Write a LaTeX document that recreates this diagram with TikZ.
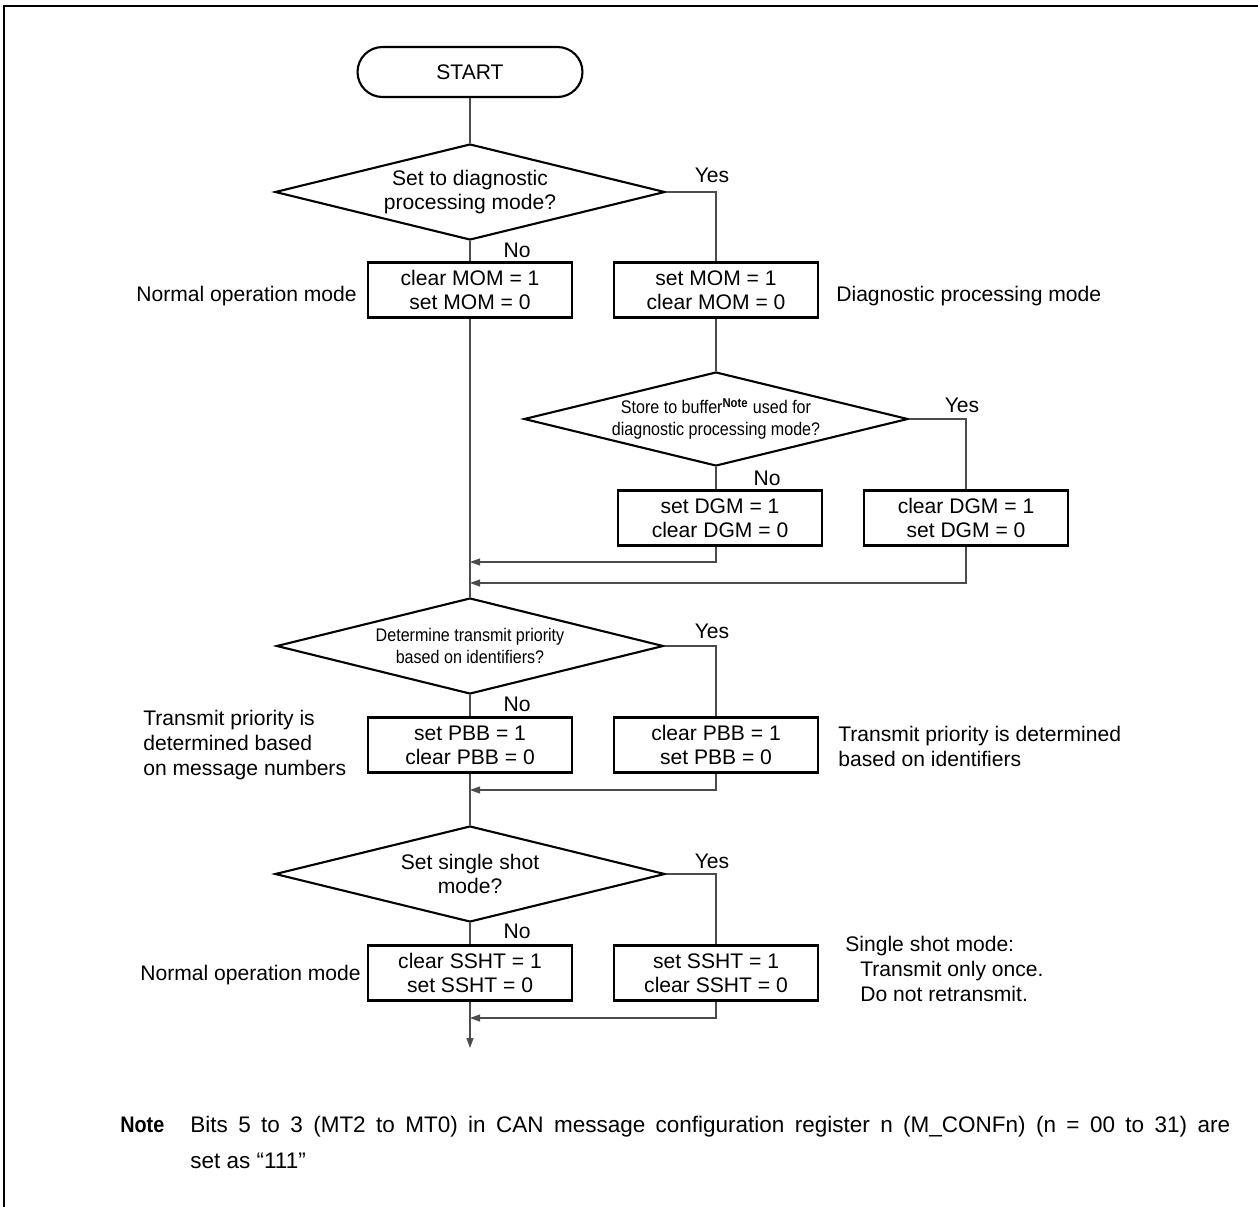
\documentclass[tikz,border=0pt]{standalone}
\usepackage{fontspec}
\setmainfont{Liberation Sans}
\newfontfamily\narrowfont[FakeStretch=0.88]{Liberation Sans}
\usetikzlibrary{arrows.meta,shapes.geometric}

\begin{document}
\begin{tikzpicture}[
  x=0.02cm, y=-0.02cm,
  font=\fontsize{12}{13.7}\selectfont,
  terminal/.style={draw, line width=1.2pt, rounded corners=0.5cm, minimum width=4.5cm, minimum height=1cm},
  decision/.style={draw, diamond, aspect=4, line width=1.2pt, align=center, inner sep=0pt, minimum width=7.8cm, minimum height=1.92cm},
  setbox/.style={draw, line width=1.2pt, align=center, minimum width=4.08cm, minimum height=1.1cm},
  tag/.style={inner sep=1pt},
  side/.style={align=left, inner sep=0pt},
  small/.style={font=\narrowfont\fontsize{10.4}{12.5}\selectfont},
  flow/.style={draw=black!70, line width=0.6pt},
  arrow/.style={flow, -{Triangle[length=2mm,width=1.4mm]}}
]
\useasboundingbox (0,0) rectangle (1258,1207);
\draw[line width=1.6pt] (4,1207) -- (4,6) -- (1258,6);

% start and mode selection
\node[terminal] (start) at (470,72) {START};
\node[decision] (dmode) at (470,192) {Set to diagnostic\\processing mode?};
\node[setbox] (mnorm) at (470,290) {clear MOM = 1\\set MOM = 0};
\node[setbox] (mdiag) at (716,290) {set MOM = 1\\clear MOM = 0};
\node[side, anchor=east] (lnorm) at (357,296) {Normal operation mode};
\node[side, anchor=west] (ldiag) at (836,296) {Diagnostic processing mode};
\node[tag] (ymode) at (712,175) {Yes};
\node[tag] (nmode) at (517,250) {No};

% diagnostic buffer
\node[decision, small, minimum width=7.68cm, minimum height=1.88cm] (dbuf) at (716,419)
  {Store to buffer\textsuperscript{\bfseries Note} used for\\diagnostic processing mode?};
\node[setbox] (gset) at (720,518) {set DGM = 1\\clear DGM = 0};
\node[setbox] (gclr) at (966,518) {clear DGM = 1\\set DGM = 0};
\node[tag] (ybuf) at (962,405) {Yes};
\node[tag] (nbuf) at (767,478) {No};
\coordinate (j1) at (470,562);
\coordinate (j2) at (470,583);

% transmit priority
\node[decision, small, minimum width=7.74cm] (dprio) at (470,646)
  {Determine transmit priority\\based on identifiers?};
\node[setbox] (pset) at (470,745) {set PBB = 1\\clear PBB = 0};
\node[setbox] (pclr) at (716,745) {clear PBB = 1\\set PBB = 0};
\node[side, anchor=west, font=\fontsize{12}{14.2}\selectfont] (lnum) at (143,745)
  {Transmit priority is\\determined based\\on message numbers};
\node[side, anchor=west, font=\fontsize{12}{14.2}\selectfont] (lid) at (838,746)
  {Transmit priority is determined\\based on identifiers};
\node[tag] (yprio) at (712,631) {Yes};
\node[tag] (nprio) at (517,704) {No};
\coordinate (j3) at (470,790);

% single shot
\node[decision] (dshot) at (470,874) {Set single shot\\mode?};
\node[setbox] (snorm) at (470,973) {clear SSHT = 1\\set SSHT = 0};
\node[setbox] (sone) at (716,973) {set SSHT = 1\\clear SSHT = 0};
\node[side, anchor=east] (lsnorm) at (361,975) {Normal operation mode};
\node[side, anchor=west, font=\fontsize{12}{14.2}\selectfont] (lshot) at (845,969)
  {Single shot mode:\\\hspace{0.3cm}Transmit only once.\\\hspace{0.3cm}Do not retransmit.};
\node[tag] (yshot) at (712,861) {Yes};
\node[tag] (nshot) at (517,931) {No};
\coordinate (j4) at (470,1018);
\coordinate (stop) at (470,1048);

% connectors
\draw[flow] (start) -- (dmode);
\draw[flow] (dmode) -- (mnorm);
\draw[flow] (dmode.east) -| (mdiag.north);
\draw[flow] (mdiag.south) -- (mdiag.south |- dbuf.north);
\draw[flow] (dbuf.south) -- (dbuf.south |- gset.north);
\draw[flow] (dbuf.east) -| (gclr.north);
\draw[arrow] (gset.south -| dbuf.south) |- (j1);
\draw[arrow] (gclr.south) |- (j2);
\draw[flow] (mnorm) -- (dprio);
\draw[flow] (dprio) -- (pset);
\draw[flow] (dprio.east) -| (pclr.north);
\draw[arrow] (pclr.south) |- (j3);
\draw[flow] (pset) -- (dshot);
\draw[flow] (dshot) -- (snorm);
\draw[flow] (dshot.east) -| (sone.north);
\draw[arrow] (sone.south) |- (j4);
\draw[arrow] (snorm) -- (stop);

% note
\node[anchor=base west, inner sep=0pt, font=\narrowfont\bfseries\fontsize{12.8}{14}\selectfont] (notekey) at (120,1132) {Note};
\node[anchor=base west, inner sep=0pt, align=justify, text width=20.8cm, font=\fontsize{12.8}{21}\selectfont] (notetext) at (190,1132)
  {Bits 5 to 3 (MT2 to MT0) in CAN message configuration register n (M\_CONFn) (n = 00 to 31) are\linebreak set as “111”};
\end{tikzpicture}
\end{document}
